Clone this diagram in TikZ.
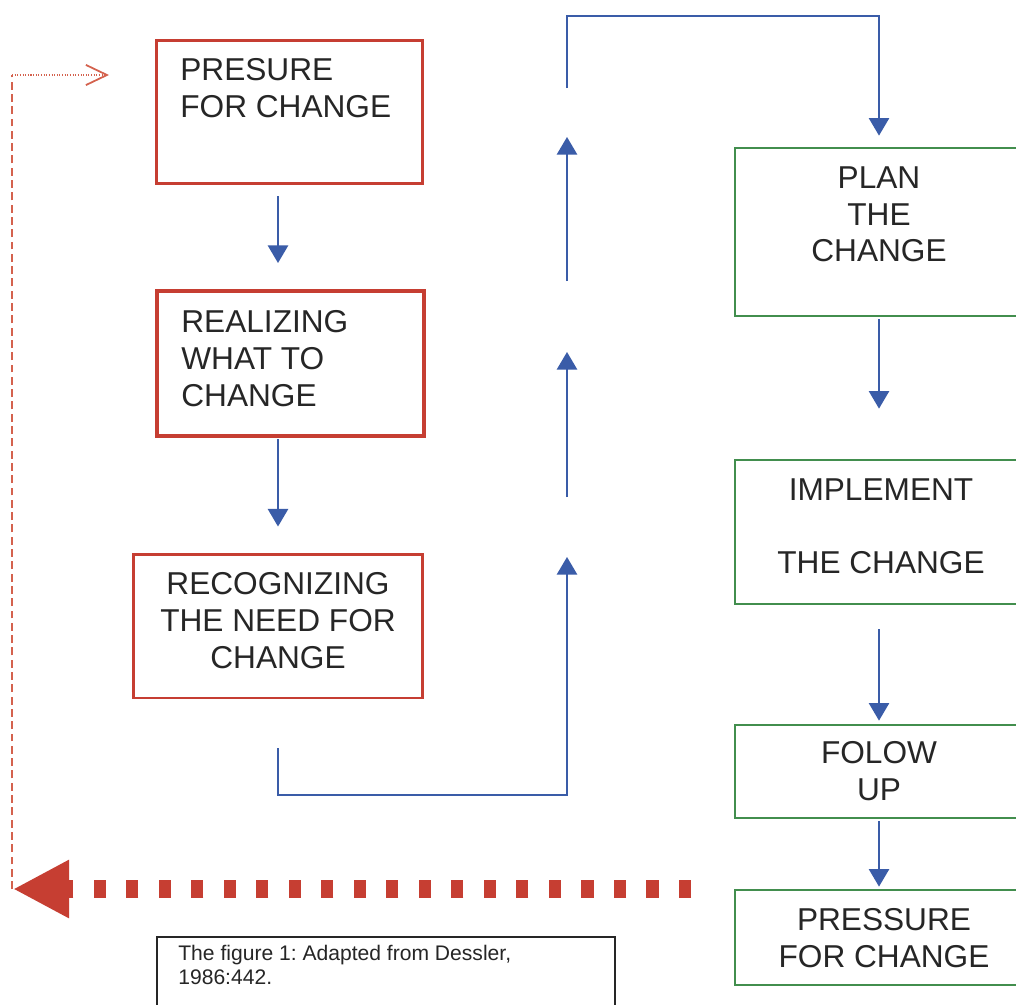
\documentclass[tikz,border=0pt]{standalone}
\usepackage{fontspec}
\setmainfont{Liberation Sans}
\usetikzlibrary{arrows.meta}
\definecolor{bl}{RGB}{58,92,168}
\definecolor{rd}{RGB}{198,62,50}
\definecolor{rdthin}{RGB}{212,98,78}
\definecolor{gr}{RGB}{66,142,78}
\definecolor{ink}{RGB}{38,38,38}
\frenchspacing
\begin{document}
\begin{tikzpicture}[x=0.02cm,y=-0.02cm,
  box/.style={draw, rectangle, inner sep=0pt},
  redbox/.style={box, draw=rd, line width=1.7pt},
  greenbox/.style={box, draw=gr, line width=1.6pt},
  txt/.style={inner sep=0pt, font=\fontsize{18}{21}\selectfont, text=ink},
  conn/.style={draw=bl, line width=1.1pt, -{Triangle[length=10pt,width=11.5pt]}},
  feedback/.style={draw=rd, line width=10pt, dash pattern=on 7pt off 11.5pt, -{Triangle[length=32pt,width=31pt]}},
  thindash/.style={draw=rdthin, line width=1pt, dash pattern=on 4.5pt off 2.5pt},
  thindot/.style={draw=rdthin, line width=1pt, dash pattern=on 0.6pt off 0.9pt},
]
\clip (0,0) rectangle (1016,1004);
\fill[white] (0,0) rectangle (1016,1004);

% boxes
\node[redbox, minimum width=5.34cm, minimum height=2.88cm] (b1) at (289.5,112) {};
\node[redbox, line width=2.3pt, minimum width=5.34cm, minimum height=2.9cm] (b2) at (290.5,363.5) {};
\node[redbox, minimum width=5.8cm, minimum height=2.88cm] (b3) at (278,626) {};
\node[greenbox, minimum width=5.76cm, minimum height=3.36cm] (b4) at (879,232) {};
\node[greenbox, minimum width=5.76cm, minimum height=2.88cm] (b5) at (879,532) {};
\node[greenbox, minimum width=5.76cm, minimum height=1.86cm] (b6) at (879,771.5) {};
\node[greenbox, minimum width=5.76cm, minimum height=1.9cm] (b7) at (879,937.5) {};
\node[box, draw=ink, line width=0.9pt, minimum width=9.16cm, minimum height=1.44cm] (cap) at (386,973) {};

% texts
\node[txt, anchor=north west, align=left] (t1) at (180,58) {PRESURE\\FOR CHANGE};
\node[txt, anchor=north west, align=left] (t2) at (181,310) {REALIZING\\WHAT TO\\CHANGE};
\node[txt, anchor=north, align=center] (t3) at (278,572) {RECOGNIZING\\THE NEED FOR\\CHANGE};
\node[txt, anchor=north, align=center] (t4) at (879,166) {PLAN\\THE\\CHANGE};
\node[txt, anchor=north, align=center] (t5) at (881,478) {IMPLEMENT\\[20.5pt]THE CHANGE};
\node[txt, anchor=north, align=center] (t6) at (879,741) {FOLOW\\UP};
\node[txt, anchor=north, align=center] (t7) at (884,908) {PRESSURE\\FOR CHANGE};
\node[inner sep=0pt, anchor=north west, align=left, text=ink,
      font=\fontsize{12}{13.7}\selectfont] (tc) at (178,945) {The figure 1: Adapted from Dessler,\\1986:442.};

% straight arrows between boxes
\draw[conn, shorten <=0.22cm, shorten >=0.52cm] (b1.south -| b3.north) -- (b2.north -| b3.north);
\draw[conn, shorten <=0.02cm, shorten >=0.52cm] (b2.south -| b3.north) -- (b3.north);
\draw[conn, shorten <=0.04cm, shorten >=1cm] (b4.south) -- (b5.north);
\draw[conn, shorten <=0.48cm, shorten >=0.06cm] (b5.south) -- (b6.north);
\draw[conn, shorten <=0.04cm, shorten >=0.04cm] (b6.south) -- (b7.north);

% loop from b3 up to b4
\coordinate (l0) at (278,748);
\coordinate (l1) at (567,795);
\coordinate (a1) at (567,557);
\coordinate (s2) at (567,497);
\coordinate (a2) at (567,352);
\coordinate (s3) at (567,281);
\coordinate (a3) at (567,137);
\coordinate (s4) at (567,88);
\coordinate (l4) at (879,16);
\draw[conn] (l0) |- (l1) -- (a1);
\draw[conn] (s2) -- (a2);
\draw[conn] (s3) -- (a3);
\draw[conn, shorten >=0.22cm] (s4) |- (l4) -- (b4.north);

% feedback
\coordinate (fbstart) at (691,889);
\coordinate (fbend) at (13,889);
\coordinate (corner) at (12,75);
\coordinate (fbtarget) at (109,75);
\draw[feedback] (fbstart) -- (fbend);
\draw[thindash] (fbend -| corner) -- (corner);
\draw[thindot, -{Straight Barb[length=12pt,width=11.5pt,line width=1pt]}] (corner) -- (fbtarget);
\end{tikzpicture}
\end{document}
